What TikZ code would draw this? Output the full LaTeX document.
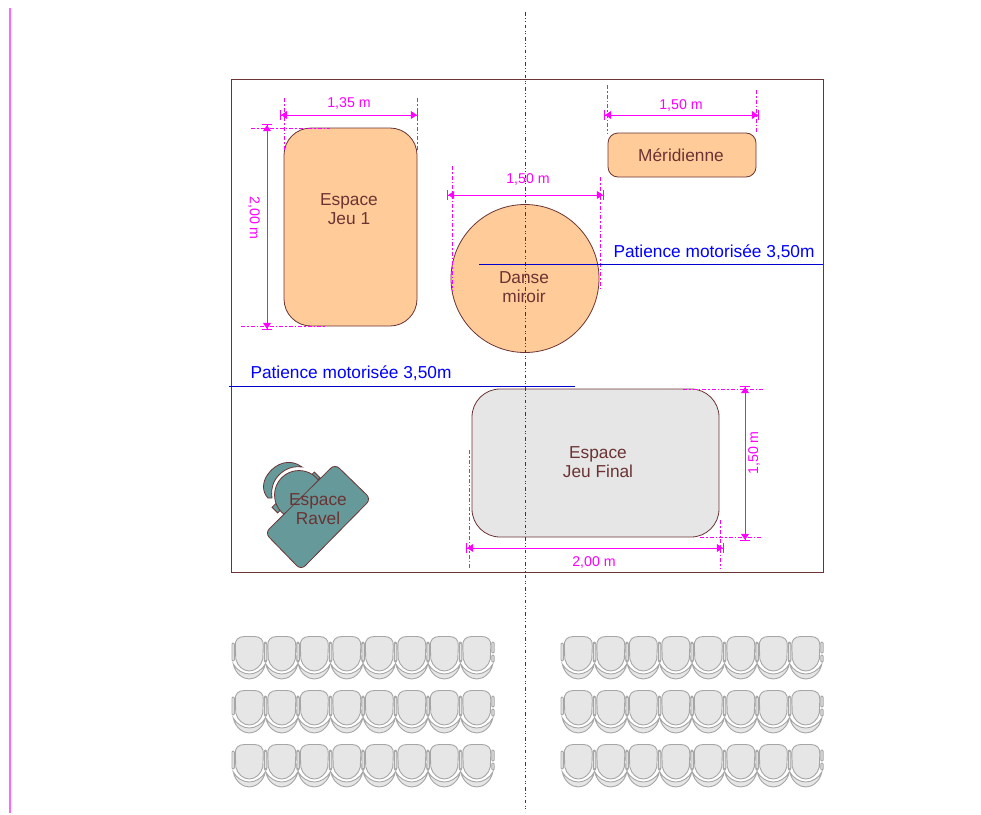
\documentclass[tikz,border=0pt]{standalone}
\usepackage{fontspec}
\setmainfont{Liberation Sans}
\usetikzlibrary{arrows.meta}
\definecolor{maroon}{HTML}{6B3333}
\definecolor{peach}{HTML}{FFCC99}
\definecolor{lightgrey}{HTML}{E6E6E6}
\definecolor{teal}{HTML}{669999}
\definecolor{seatline}{HTML}{A6A6A6}
\definecolor{dimcolor}{HTML}{FF00FF}
\definecolor{axiscolor}{HTML}{C00000}
\tikzset{
  space/.style={draw=maroon, line width=0.8pt},
  label/.style={text=maroon, font=\fontsize{17.3}{19}\selectfont, align=center, inner sep=0pt},
  dim/.style={draw=dimcolor, line width=1pt, {Bar[width=10pt,length=1.2pt]Triangle[width=8pt,length=6pt,sep=0pt]}-{Triangle[width=8pt,length=6pt,sep=0pt]Bar[width=10pt,length=1.2pt]}},
  ext/.style={draw=dimcolor, line width=0.8pt, dash pattern=on 4pt off 2pt on 1.5pt off 2pt},
  dimtext/.style={text=dimcolor, font=\fontsize{14.2}{16}\selectfont, inner sep=0pt},
  curtain/.style={draw=blue!80!black, line width=1pt},
  curtaintext/.style={text=blue, font=\fontsize{17.3}{19}\selectfont, inner sep=0pt},
  seatpart/.style={draw=seatline, line width=0.9pt, fill=lightgrey},
  seat/.pic={
    \draw[seatpart] (-16,7) .. controls (-14,17) and (-6,22) .. (0,22) .. controls (6,22) and (14,17) .. (16,7) .. controls (13,13) and (6,17) .. (0,17) .. controls (-6,17) and (-13,13) .. cycle;
    \draw[seatpart] (-14,-11) .. controls (-14.5,-17) and (-11,-20.5) .. (-5,-20.5) -- (5,-20.5) .. controls (11,-20.5) and (14.5,-17) .. (14,-11) -- (13.5,2) .. controls (12,9) and (6,14) .. (0,14) .. controls (-6,14) and (-12,9) .. (-13.5,2) -- cycle;
    \draw[seatpart, rounded corners=1pt] (-17.3,-14) rectangle (-15,4);
    \draw[seatpart, rounded corners=1pt] (15,-15) rectangle (17.3,-4);
    \draw[seatpart, rounded corners=1pt] (15,-2) rectangle (17.3,5);
  }
}
\begin{document}
\begin{tikzpicture}[x=1pt,y=-1pt]
\useasboundingbox (0,0) rectangle (981,814);

\draw[draw=dimcolor!60, line width=2pt] (10,8) -- (10,813);

\draw[space] (231.5,79) rectangle (823.5,572);

\foreach \row in {0,54,108} {
  \foreach \col in {0,...,7} {
    \pic at ({249.3+32.5*\col},{657+\row}) {seat};
    \pic at ({578.3+32.5*\col},{657+\row}) {seat};
  }
}

\draw[space, fill=peach, rounded corners=27pt] (284,128) rectangle (417,326);
\node[label] (jeu1) at (349,209) {Espace\\Jeu 1};

\draw[space, fill=peach, rounded corners=10pt] (608,133) rectangle (756,177);
\node[label] (meridienne) at (681,155) {Méridienne};

\draw[space, fill=peach] (525,278.5) circle (74);
\node[label] (danse) at (524,287) {Danse\\miroir};

\draw[space, fill=lightgrey, rounded corners=28pt] (472,389) rectangle (719,537);
\node[label] (jeufinal) at (598,462) {Espace\\Jeu Final};

\draw[space, fill=teal, rotate around={45:(315,477)}] (312,473) rectangle (318,481);
\draw[space, fill=teal, rotate around={45:(277,508)}] (274,504) rectangle (280,512);
\draw[space, fill=teal] (299,495) circle (24.5);
\draw[space, fill=teal] (268,498) .. controls (262,492) and (262,482) .. (268,474) .. controls (276,463) and (290,458) .. (302,467) .. controls (290,465) and (279,472) .. (274,482) .. controls (272,487) and (271,492) .. (272,498) -- cycle;
\draw[space, fill=teal, rounded corners=6pt] (335,464) -- (371,499) -- (301,570) -- (265,533) -- cycle;
\node[label] (ravel) at (318,509) {Espace\\Ravel};

\draw[draw=axiscolor, line width=0.6pt, dash pattern=on 3.5pt off 2.8pt on 1pt off 1.4pt on 1pt off 2.8pt] (525,12) -- (525,812);

\draw[ext] (284,98) -- (284,150);
\draw[ext] (417,98) -- (417,150);
\draw[dim] (280,115) -- (418,115);
\node[dimtext] (d135) at (349,103) {1,35 m};

\draw[ext] (251,128) -- (330,128);
\draw[ext] (241,326) -- (325,326);
\draw[dim] (267,124) -- (267,330);
\node[dimtext, rotate=270] (d200a) at (254,218) {2,00 m};

\draw[ext] (607,85) -- (607,133);
\draw[ext] (756,90) -- (756,133);
\draw[dim] (604,115) -- (759,115);
\node[dimtext] (d150a) at (681,105) {1,50 m};

\draw[ext] (452,166) -- (452,290);
\draw[ext] (600,177) -- (600,290);
\draw[dim] (447,195) -- (604,195);
\node[dimtext] (d150b) at (528,179) {1,50 m};

\draw[ext] (683,389) -- (765,389);
\draw[ext] (700,537) -- (762,537);
\draw[dim] (745,386) -- (745,541);
\node[dimtext, rotate=90] (d150c) at (754,453) {1,50 m};

\draw[ext] (469,450) -- (469,568);
\draw[ext] (720,520) -- (720,568);
\draw[dim] (466,548) -- (724,548);
\node[dimtext] (d200b) at (594,562) {2,00 m};

\draw[curtain] (479,264) -- (823,264);
\node[curtaintext] (patience1) at (714,252) {Patience motorisée 3,50m};
\draw[curtain] (229,386) -- (575,386);
\node[curtaintext] (patience2) at (351,373) {Patience motorisée 3,50m};
\end{tikzpicture}
\end{document}
